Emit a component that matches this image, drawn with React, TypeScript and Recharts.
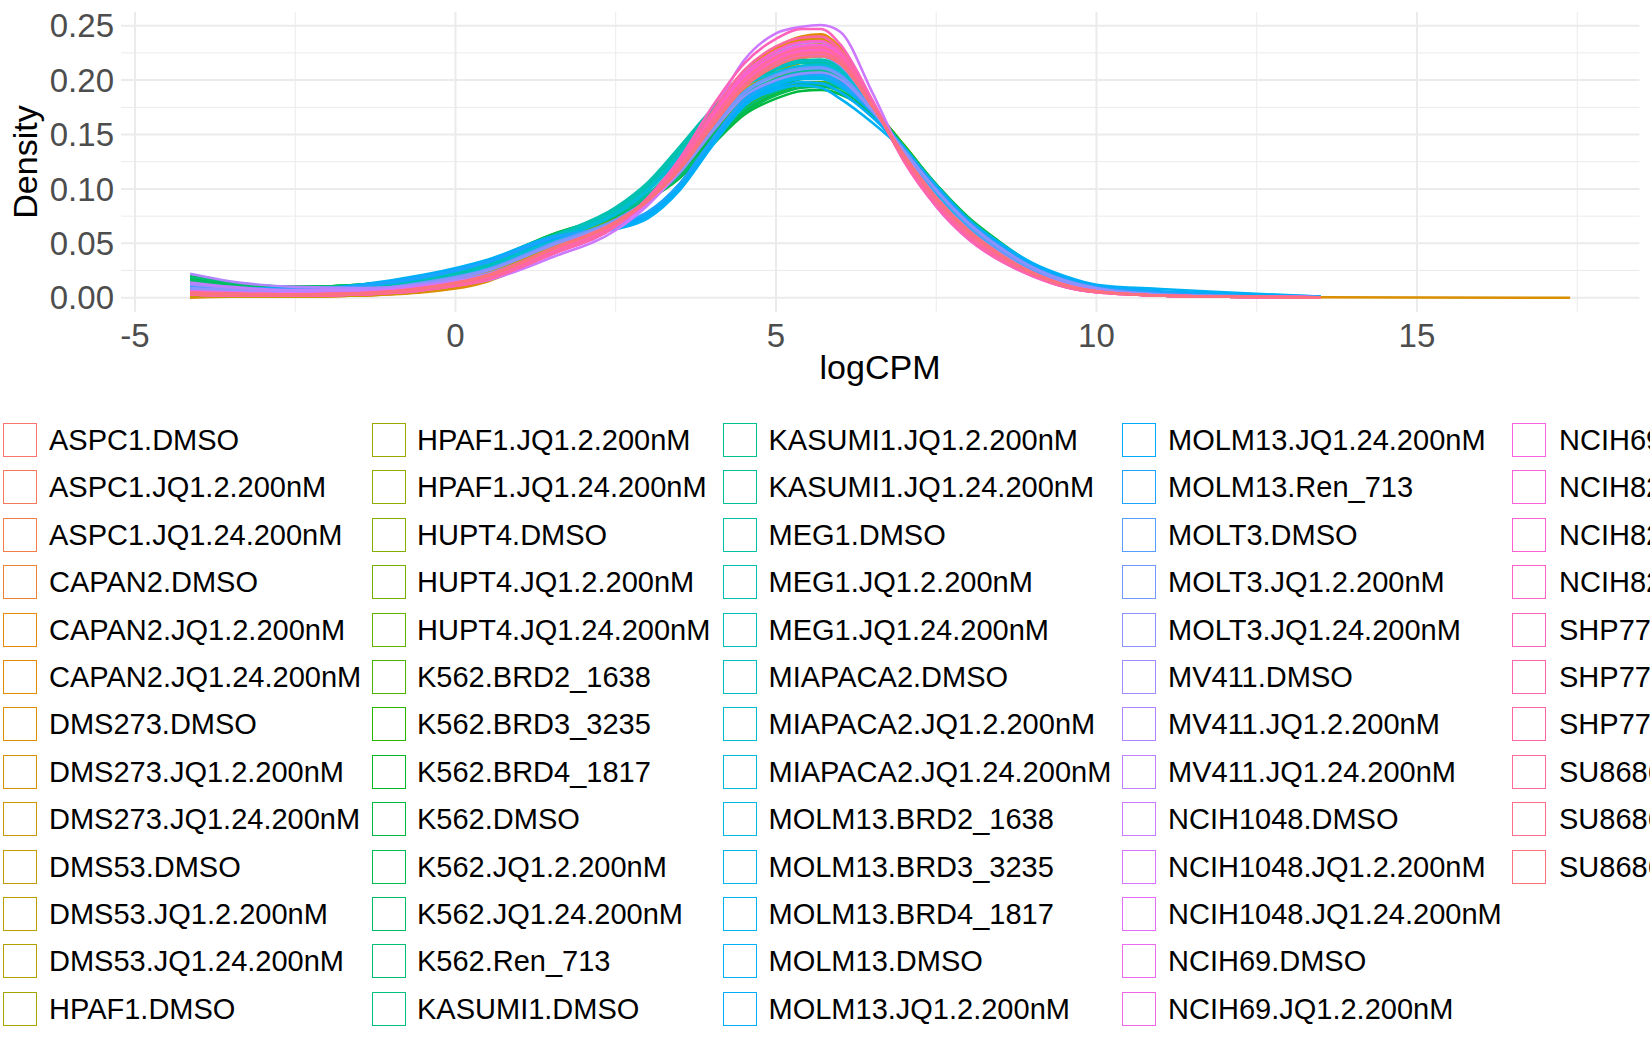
import React from 'react';
import { LineChart, Line, XAxis, YAxis, ReferenceLine } from 'recharts';

const FONT = '"Liberation Sans", Arial, Helvetica, sans-serif';

const logCPM = [
  -4.14, -3.5, -2.5, -1.5, -0.5, 0.5, 1.5, 2.5, 3.0, 3.5, 4.0, 4.5, 5.0, 5.4,
  5.7, 6.0, 6.5, 7.0, 7.5, 8.0, 8.5, 9.0, 9.5, 10.0, 11.0, 12.0, 13.5, 17.39,
];

const sampleNames = [
  'ASPC1.DMSO', 'ASPC1.JQ1.2.200nM', 'ASPC1.JQ1.24.200nM',
  'CAPAN2.DMSO', 'CAPAN2.JQ1.2.200nM', 'CAPAN2.JQ1.24.200nM',
  'DMS273.DMSO', 'DMS273.JQ1.2.200nM', 'DMS273.JQ1.24.200nM',
  'DMS53.DMSO', 'DMS53.JQ1.2.200nM', 'DMS53.JQ1.24.200nM',
  'HPAF1.DMSO', 'HPAF1.JQ1.2.200nM', 'HPAF1.JQ1.24.200nM',
  'HUPT4.DMSO', 'HUPT4.JQ1.2.200nM', 'HUPT4.JQ1.24.200nM',
  'K562.BRD2_1638', 'K562.BRD3_3235', 'K562.BRD4_1817', 'K562.DMSO',
  'K562.JQ1.2.200nM', 'K562.JQ1.24.200nM', 'K562.Ren_713',
  'KASUMI1.DMSO', 'KASUMI1.JQ1.2.200nM', 'KASUMI1.JQ1.24.200nM',
  'MEG1.DMSO', 'MEG1.JQ1.2.200nM', 'MEG1.JQ1.24.200nM',
  'MIAPACA2.DMSO', 'MIAPACA2.JQ1.2.200nM', 'MIAPACA2.JQ1.24.200nM',
  'MOLM13.BRD2_1638', 'MOLM13.BRD3_3235', 'MOLM13.BRD4_1817', 'MOLM13.DMSO',
  'MOLM13.JQ1.2.200nM', 'MOLM13.JQ1.24.200nM', 'MOLM13.Ren_713',
  'MOLT3.DMSO', 'MOLT3.JQ1.2.200nM', 'MOLT3.JQ1.24.200nM',
  'MV411.DMSO', 'MV411.JQ1.2.200nM', 'MV411.JQ1.24.200nM',
  'NCIH1048.DMSO', 'NCIH1048.JQ1.2.200nM', 'NCIH1048.JQ1.24.200nM',
  'NCIH69.DMSO', 'NCIH69.JQ1.2.200nM', 'NCIH69.JQ1.24.200nM',
  'NCIH82.DMSO', 'NCIH82.JQ1.2.200nM', 'NCIH82.JQ1.24.200nM',
  'SHP77.DMSO', 'SHP77.JQ1.2.200nM', 'SHP77.JQ1.24.200nM',
  'SU8686.DMSO', 'SU8686.JQ1.2.200nM', 'SU8686.JQ1.24.200nM',
];

// one row per sample, aligned with logCPM (null = curve already ended)
const densityBySample: (number | null)[][] = [
  [0.004, 0.003, 0.002, 0.004, 0.009, 0.021, 0.046, 0.069, 0.091, 0.121, 0.161, 0.197, 0.220, 0.230, 0.231, 0.221, 0.176, 0.129, 0.091, 0.062, 0.040, 0.025, 0.013, 0.007, 0.003, 0.001, 0.0005, null],
  [0.003, 0.002, 0.002, 0.003, 0.008, 0.019, 0.045, 0.070, 0.093, 0.124, 0.165, 0.201, 0.225, 0.234, 0.235, 0.224, 0.178, 0.128, 0.090, 0.061, 0.040, 0.024, 0.012, 0.006, 0.002, 0.001, 0.0005, null],
  [0.005, 0.004, 0.003, 0.004, 0.010, 0.022, 0.047, 0.071, 0.092, 0.120, 0.159, 0.194, 0.216, 0.226, 0.228, 0.218, 0.176, 0.131, 0.093, 0.063, 0.041, 0.026, 0.014, 0.007, 0.003, 0.001, 0.0005, null],
  [0.001, 0.001, 0.001, 0.002, 0.006, 0.017, 0.043, 0.069, 0.093, 0.126, 0.170, 0.206, 0.228, 0.238, 0.240, 0.229, 0.180, 0.127, 0.088, 0.059, 0.038, 0.023, 0.011, 0.006, 0.002, 0.001, 0.0003, null],
  [0.000, 0.001, 0.001, 0.002, 0.006, 0.016, 0.042, 0.068, 0.092, 0.125, 0.169, 0.205, 0.227, 0.237, 0.238, 0.227, 0.179, 0.127, 0.089, 0.060, 0.039, 0.023, 0.011, 0.006, 0.002, 0.001, 0.0003, null],
  [0.001, 0.001, 0.001, 0.002, 0.005, 0.015, 0.041, 0.067, 0.093, 0.127, 0.172, 0.208, 0.230, 0.240, 0.242, 0.230, 0.181, 0.127, 0.087, 0.058, 0.037, 0.022, 0.011, 0.006, 0.002, 0.001, 0.0003, null],
  [0.002, 0.002, 0.002, 0.003, 0.007, 0.018, 0.044, 0.069, 0.092, 0.124, 0.166, 0.202, 0.224, 0.234, 0.236, 0.226, 0.180, 0.129, 0.090, 0.060, 0.039, 0.024, 0.012, 0.006, 0.002, 0.001, 0.0004, 0],
  [0.003, 0.002, 0.002, 0.003, 0.007, 0.019, 0.045, 0.070, 0.092, 0.122, 0.163, 0.199, 0.222, 0.231, 0.233, 0.223, 0.179, 0.130, 0.091, 0.061, 0.040, 0.024, 0.012, 0.007, 0.002, 0.001, 0.0004, null],
  [0.001, 0.001, 0.001, 0.002, 0.006, 0.017, 0.043, 0.068, 0.093, 0.126, 0.169, 0.205, 0.227, 0.236, 0.239, 0.228, 0.181, 0.128, 0.088, 0.059, 0.038, 0.023, 0.011, 0.006, 0.002, 0.001, 0.0003, null],
  [0.006, 0.004, 0.003, 0.005, 0.011, 0.023, 0.048, 0.071, 0.092, 0.120, 0.157, 0.192, 0.213, 0.223, 0.225, 0.216, 0.176, 0.131, 0.094, 0.064, 0.042, 0.026, 0.014, 0.008, 0.003, 0.0015, 0.0005, null],
  [0.005, 0.004, 0.003, 0.005, 0.011, 0.024, 0.049, 0.071, 0.091, 0.118, 0.155, 0.189, 0.210, 0.220, 0.222, 0.214, 0.175, 0.132, 0.095, 0.065, 0.043, 0.027, 0.015, 0.008, 0.003, 0.0015, 0.0005, null],
  [0.004, 0.003, 0.003, 0.004, 0.010, 0.022, 0.047, 0.070, 0.092, 0.121, 0.159, 0.195, 0.217, 0.227, 0.229, 0.219, 0.177, 0.130, 0.093, 0.063, 0.041, 0.025, 0.014, 0.007, 0.003, 0.001, 0.0005, null],
  [0.008, 0.006, 0.004, 0.006, 0.012, 0.025, 0.050, 0.072, 0.092, 0.119, 0.154, 0.187, 0.207, 0.216, 0.218, 0.211, 0.176, 0.134, 0.097, 0.067, 0.044, 0.027, 0.015, 0.008, 0.003, 0.0015, 0.0005, null],
  [0.009, 0.007, 0.005, 0.007, 0.013, 0.026, 0.051, 0.073, 0.091, 0.117, 0.151, 0.183, 0.202, 0.211, 0.212, 0.206, 0.175, 0.136, 0.099, 0.069, 0.046, 0.028, 0.016, 0.008, 0.003, 0.0015, 0.0005, null],
  [0.007, 0.006, 0.004, 0.006, 0.013, 0.026, 0.052, 0.074, 0.092, 0.117, 0.150, 0.181, 0.199, 0.207, 0.208, 0.203, 0.175, 0.137, 0.100, 0.070, 0.047, 0.029, 0.016, 0.009, 0.003, 0.0015, 0.0005, null],
  [0.010, 0.008, 0.006, 0.008, 0.015, 0.028, 0.053, 0.074, 0.091, 0.115, 0.147, 0.177, 0.195, 0.202, 0.203, 0.199, 0.175, 0.139, 0.102, 0.071, 0.048, 0.029, 0.017, 0.009, 0.004, 0.002, 0.0005, null],
  [0.008, 0.006, 0.005, 0.007, 0.014, 0.027, 0.052, 0.073, 0.091, 0.117, 0.150, 0.182, 0.200, 0.209, 0.210, 0.204, 0.175, 0.137, 0.100, 0.069, 0.046, 0.028, 0.016, 0.009, 0.003, 0.0015, 0.0005, null],
  [0.012, 0.009, 0.007, 0.009, 0.016, 0.029, 0.054, 0.075, 0.091, 0.114, 0.145, 0.174, 0.191, 0.197, 0.198, 0.195, 0.174, 0.140, 0.103, 0.072, 0.049, 0.030, 0.017, 0.010, 0.004, 0.002, 0.0005, null],
  [0.017, 0.012, 0.009, 0.011, 0.018, 0.031, 0.056, 0.076, 0.091, 0.114, 0.146, 0.175, 0.190, 0.197, 0.198, 0.194, 0.173, 0.139, 0.103, 0.072, 0.049, 0.030, 0.017, 0.010, 0.004, 0.002, 0.0005, null],
  [0.019, 0.013, 0.010, 0.012, 0.019, 0.032, 0.057, 0.076, 0.090, 0.112, 0.144, 0.172, 0.188, 0.195, 0.196, 0.193, 0.173, 0.140, 0.104, 0.073, 0.050, 0.030, 0.017, 0.010, 0.004, 0.002, 0.0005, null],
  [0.015, 0.011, 0.008, 0.010, 0.017, 0.030, 0.055, 0.075, 0.091, 0.115, 0.148, 0.178, 0.193, 0.201, 0.202, 0.197, 0.174, 0.139, 0.102, 0.071, 0.048, 0.029, 0.017, 0.010, 0.004, 0.002, 0.0005, null],
  [0.020, 0.014, 0.010, 0.012, 0.020, 0.034, 0.058, 0.077, 0.090, 0.110, 0.140, 0.168, 0.183, 0.190, 0.191, 0.187, 0.168, 0.137, 0.104, 0.074, 0.051, 0.031, 0.018, 0.010, 0.004, 0.002, 0.0005, null],
  [0.018, 0.013, 0.010, 0.012, 0.019, 0.033, 0.058, 0.077, 0.091, 0.111, 0.142, 0.170, 0.186, 0.193, 0.194, 0.190, 0.170, 0.138, 0.104, 0.073, 0.050, 0.031, 0.018, 0.010, 0.004, 0.002, 0.0005, null],
  [0.016, 0.012, 0.009, 0.011, 0.018, 0.032, 0.057, 0.077, 0.092, 0.116, 0.149, 0.179, 0.194, 0.202, 0.203, 0.198, 0.174, 0.138, 0.102, 0.071, 0.048, 0.029, 0.017, 0.010, 0.004, 0.002, 0.0005, null],
  [0.019, 0.014, 0.010, 0.012, 0.019, 0.033, 0.057, 0.076, 0.090, 0.112, 0.144, 0.173, 0.189, 0.196, 0.197, 0.193, 0.172, 0.139, 0.104, 0.073, 0.050, 0.030, 0.017, 0.010, 0.004, 0.002, 0.0005, null],
  [0.012, 0.009, 0.007, 0.009, 0.016, 0.029, 0.054, 0.076, 0.094, 0.121, 0.156, 0.189, 0.205, 0.213, 0.214, 0.207, 0.174, 0.134, 0.098, 0.068, 0.045, 0.027, 0.015, 0.008, 0.003, 0.0015, 0.0005, null],
  [0.010, 0.008, 0.006, 0.008, 0.015, 0.028, 0.053, 0.076, 0.095, 0.123, 0.160, 0.194, 0.210, 0.218, 0.219, 0.211, 0.174, 0.132, 0.096, 0.066, 0.044, 0.026, 0.014, 0.008, 0.003, 0.0015, 0.0005, null],
  [0.013, 0.010, 0.007, 0.009, 0.017, 0.030, 0.055, 0.077, 0.095, 0.122, 0.156, 0.187, 0.201, 0.208, 0.209, 0.203, 0.173, 0.135, 0.099, 0.069, 0.046, 0.028, 0.016, 0.009, 0.003, 0.0015, 0.0005, null],
  [0.008, 0.006, 0.005, 0.007, 0.014, 0.028, 0.055, 0.081, 0.104, 0.136, 0.170, 0.198, 0.210, 0.216, 0.216, 0.208, 0.172, 0.131, 0.095, 0.065, 0.043, 0.026, 0.014, 0.008, 0.003, 0.0015, 0.0005, null],
  [0.007, 0.006, 0.005, 0.007, 0.014, 0.028, 0.056, 0.083, 0.106, 0.139, 0.173, 0.200, 0.212, 0.218, 0.218, 0.209, 0.171, 0.130, 0.094, 0.065, 0.043, 0.026, 0.014, 0.008, 0.003, 0.0015, 0.0005, null],
  [0.009, 0.007, 0.005, 0.007, 0.015, 0.029, 0.056, 0.080, 0.102, 0.133, 0.167, 0.195, 0.207, 0.213, 0.214, 0.207, 0.172, 0.132, 0.096, 0.066, 0.044, 0.027, 0.015, 0.008, 0.003, 0.0015, 0.0005, null],
  [0.006, 0.005, 0.004, 0.006, 0.013, 0.027, 0.054, 0.078, 0.099, 0.130, 0.165, 0.197, 0.211, 0.217, 0.218, 0.210, 0.173, 0.131, 0.095, 0.065, 0.043, 0.026, 0.014, 0.008, 0.003, 0.0015, 0.0005, null],
  [0.005, 0.004, 0.004, 0.006, 0.012, 0.026, 0.052, 0.077, 0.099, 0.131, 0.167, 0.200, 0.215, 0.221, 0.222, 0.213, 0.174, 0.130, 0.094, 0.064, 0.042, 0.025, 0.014, 0.007, 0.003, 0.0015, 0.0005, null],
  [0.007, 0.005, 0.004, 0.006, 0.013, 0.027, 0.053, 0.077, 0.098, 0.128, 0.163, 0.194, 0.207, 0.213, 0.214, 0.207, 0.172, 0.132, 0.096, 0.066, 0.044, 0.026, 0.015, 0.008, 0.003, 0.0015, 0.0005, null],
  [0.010, 0.009, 0.008, 0.011, 0.019, 0.033, 0.055, 0.066, 0.078, 0.104, 0.144, 0.180, 0.198, 0.204, 0.204, 0.197, 0.171, 0.137, 0.101, 0.070, 0.047, 0.029, 0.017, 0.010, 0.005, 0.002, 0.0005, null],
  [0.009, 0.008, 0.007, 0.010, 0.018, 0.032, 0.054, 0.065, 0.077, 0.103, 0.143, 0.179, 0.197, 0.203, 0.203, 0.196, 0.171, 0.137, 0.101, 0.070, 0.047, 0.029, 0.017, 0.010, 0.005, 0.002, 0.0005, null],
  [0.011, 0.009, 0.008, 0.011, 0.019, 0.033, 0.055, 0.064, 0.075, 0.100, 0.140, 0.177, 0.195, 0.201, 0.201, 0.194, 0.170, 0.138, 0.102, 0.071, 0.048, 0.030, 0.018, 0.010, 0.005, 0.002, 0.0005, null],
  [0.008, 0.008, 0.008, 0.012, 0.021, 0.035, 0.056, 0.063, 0.073, 0.099, 0.139, 0.176, 0.191, 0.195, 0.193, 0.183, 0.161, 0.135, 0.103, 0.072, 0.050, 0.032, 0.020, 0.012, 0.008, 0.005, 0.001, null],
  [0.009, 0.008, 0.008, 0.011, 0.020, 0.034, 0.055, 0.064, 0.075, 0.101, 0.141, 0.178, 0.193, 0.198, 0.197, 0.189, 0.166, 0.136, 0.102, 0.071, 0.049, 0.031, 0.019, 0.011, 0.006, 0.004, 0.001, null],
  [0.010, 0.009, 0.008, 0.011, 0.019, 0.033, 0.054, 0.066, 0.078, 0.105, 0.145, 0.182, 0.200, 0.206, 0.206, 0.198, 0.171, 0.136, 0.100, 0.069, 0.046, 0.029, 0.017, 0.010, 0.005, 0.002, 0.0005, null],
  [0.010, 0.009, 0.008, 0.011, 0.019, 0.033, 0.055, 0.067, 0.079, 0.105, 0.145, 0.181, 0.199, 0.205, 0.205, 0.197, 0.171, 0.137, 0.101, 0.070, 0.047, 0.029, 0.017, 0.010, 0.005, 0.002, 0.0005, null],
  [0.007, 0.006, 0.005, 0.007, 0.014, 0.026, 0.050, 0.072, 0.090, 0.118, 0.155, 0.189, 0.205, 0.211, 0.212, 0.205, 0.173, 0.134, 0.098, 0.067, 0.044, 0.027, 0.015, 0.008, 0.003, 0.0015, 0.0005, null],
  [0.008, 0.007, 0.005, 0.007, 0.014, 0.026, 0.049, 0.071, 0.089, 0.117, 0.154, 0.188, 0.204, 0.210, 0.211, 0.204, 0.173, 0.135, 0.099, 0.068, 0.045, 0.027, 0.015, 0.008, 0.003, 0.0015, 0.0005, null],
  [0.009, 0.007, 0.005, 0.007, 0.013, 0.025, 0.048, 0.070, 0.088, 0.115, 0.152, 0.185, 0.200, 0.206, 0.207, 0.201, 0.172, 0.135, 0.099, 0.069, 0.046, 0.028, 0.016, 0.009, 0.003, 0.0015, 0.0005, null],
  [0.012, 0.009, 0.006, 0.007, 0.012, 0.022, 0.044, 0.067, 0.088, 0.120, 0.162, 0.198, 0.215, 0.221, 0.222, 0.214, 0.176, 0.132, 0.093, 0.063, 0.041, 0.024, 0.013, 0.007, 0.002, 0.001, 0.0005, null],
  [0.022, 0.015, 0.010, 0.009, 0.012, 0.021, 0.042, 0.066, 0.088, 0.121, 0.165, 0.203, 0.221, 0.229, 0.230, 0.220, 0.177, 0.130, 0.091, 0.061, 0.039, 0.023, 0.012, 0.006, 0.002, 0.001, 0.0005, null],
  [0.014, 0.010, 0.007, 0.007, 0.011, 0.020, 0.042, 0.066, 0.088, 0.122, 0.167, 0.206, 0.226, 0.234, 0.235, 0.225, 0.179, 0.129, 0.089, 0.059, 0.038, 0.022, 0.011, 0.006, 0.002, 0.001, 0.0005, null],
  [0.006, 0.004, 0.003, 0.004, 0.008, 0.016, 0.037, 0.062, 0.085, 0.118, 0.168, 0.218, 0.243, 0.249, 0.2506, 0.2445, 0.189, 0.128, 0.084, 0.054, 0.034, 0.020, 0.010, 0.005, 0.002, 0.001, 0.0003, null],
  [0.005, 0.004, 0.003, 0.004, 0.009, 0.018, 0.040, 0.065, 0.088, 0.121, 0.164, 0.202, 0.222, 0.231, 0.232, 0.223, 0.178, 0.129, 0.089, 0.059, 0.038, 0.022, 0.011, 0.006, 0.002, 0.001, 0.0003, null],
  [0.006, 0.005, 0.004, 0.005, 0.010, 0.020, 0.042, 0.067, 0.088, 0.119, 0.160, 0.197, 0.217, 0.225, 0.226, 0.218, 0.177, 0.131, 0.091, 0.061, 0.039, 0.023, 0.012, 0.006, 0.002, 0.001, 0.0004, null],
  [0.004, 0.003, 0.003, 0.004, 0.009, 0.019, 0.042, 0.067, 0.089, 0.120, 0.162, 0.199, 0.219, 0.227, 0.228, 0.219, 0.177, 0.129, 0.090, 0.060, 0.038, 0.022, 0.011, 0.006, 0.002, 0.001, 0.0003, null],
  [0.005, 0.004, 0.003, 0.004, 0.009, 0.019, 0.041, 0.066, 0.089, 0.121, 0.164, 0.202, 0.223, 0.231, 0.232, 0.222, 0.178, 0.128, 0.089, 0.059, 0.037, 0.022, 0.011, 0.006, 0.002, 0.001, 0.0003, null],
  [0.006, 0.004, 0.003, 0.004, 0.009, 0.020, 0.043, 0.068, 0.089, 0.119, 0.160, 0.196, 0.216, 0.223, 0.224, 0.216, 0.176, 0.130, 0.091, 0.061, 0.039, 0.023, 0.012, 0.006, 0.002, 0.001, 0.0003, null],
  [0.003, 0.002, 0.002, 0.003, 0.008, 0.018, 0.041, 0.067, 0.090, 0.122, 0.164, 0.202, 0.223, 0.231, 0.232, 0.222, 0.177, 0.128, 0.088, 0.058, 0.037, 0.022, 0.011, 0.006, 0.002, 0.001, 0.0003, null],
  [0.004, 0.003, 0.002, 0.003, 0.008, 0.018, 0.041, 0.067, 0.089, 0.120, 0.161, 0.198, 0.219, 0.227, 0.228, 0.219, 0.177, 0.129, 0.089, 0.059, 0.038, 0.022, 0.011, 0.006, 0.002, 0.001, 0.0003, null],
  [0.003, 0.002, 0.002, 0.003, 0.007, 0.017, 0.040, 0.066, 0.090, 0.123, 0.167, 0.205, 0.227, 0.235, 0.236, 0.225, 0.178, 0.127, 0.087, 0.057, 0.036, 0.021, 0.010, 0.005, 0.002, 0.001, 0.0003, null],
  [0.003, 0.002, 0.002, 0.003, 0.007, 0.017, 0.040, 0.066, 0.092, 0.128, 0.175, 0.215, 0.238, 0.247, 0.247, 0.233, 0.182, 0.125, 0.084, 0.054, 0.034, 0.020, 0.010, 0.005, 0.002, 0.001, 0.0003, null],
  [0.004, 0.003, 0.002, 0.003, 0.008, 0.018, 0.041, 0.067, 0.089, 0.119, 0.160, 0.196, 0.217, 0.225, 0.226, 0.218, 0.177, 0.130, 0.090, 0.060, 0.038, 0.022, 0.011, 0.006, 0.002, 0.001, 0.0003, null],
  [0.003, 0.002, 0.002, 0.003, 0.007, 0.017, 0.040, 0.066, 0.091, 0.125, 0.170, 0.209, 0.231, 0.239, 0.240, 0.228, 0.179, 0.126, 0.086, 0.056, 0.035, 0.021, 0.010, 0.005, 0.002, 0.001, 0.0003, null],
  [0.004, 0.003, 0.003, 0.004, 0.009, 0.020, 0.044, 0.069, 0.090, 0.121, 0.163, 0.200, 0.221, 0.229, 0.230, 0.221, 0.177, 0.129, 0.089, 0.059, 0.038, 0.022, 0.011, 0.006, 0.002, 0.001, 0.0003, null],
  [0.005, 0.004, 0.003, 0.004, 0.009, 0.021, 0.045, 0.070, 0.090, 0.119, 0.159, 0.195, 0.216, 0.224, 0.225, 0.217, 0.177, 0.130, 0.091, 0.061, 0.039, 0.023, 0.012, 0.006, 0.002, 0.001, 0.0004, null],
  [0.004, 0.003, 0.003, 0.004, 0.009, 0.020, 0.044, 0.069, 0.089, 0.118, 0.157, 0.193, 0.213, 0.221, 0.222, 0.215, 0.176, 0.131, 0.092, 0.062, 0.040, 0.023, 0.012, 0.006, 0.002, 0.001, 0.0004, null],
];

const xMajorTicks = [-5, 0, 5, 10, 15];
const xMinorBreaks = [-2.5, 2.5, 7.5, 12.5, 17.5];
const yMajorTicks = [0, 0.05, 0.1, 0.15, 0.2, 0.25];
const yMinorBreaks = [0.025, 0.075, 0.125, 0.175, 0.225];

// ggplot2 default hue palette: hcl(h, c = 100, l = 65)
function hueColor(h: number): string {
  const L = 65;
  const C = 100;
  const hr = (h * Math.PI) / 180;
  const U = C * Math.cos(hr);
  const V = C * Math.sin(hr);
  const Y = 100 * Math.pow((L + 16) / 116, 3);
  const u = U / (13 * L) + 0.1978398;
  const v = V / (13 * L) + 0.4683363;
  const X = (9 * Y * u) / (4 * v);
  const Z = -X / 3 - 5 * Y + (3 * Y) / v;
  const x = X / 100, y = Y / 100, z = Z / 100;
  const lin = [
    3.240479 * x - 1.53715 * y - 0.498535 * z,
    -0.969256 * x + 1.875992 * y + 0.041556 * z,
    0.055648 * x - 0.204043 * y + 1.057311 * z,
  ];
  const hex = lin.map((c) => {
    const g = c <= 0.0031308 ? 12.92 * c : 1.055 * Math.pow(c, 1 / 2.4) - 0.055;
    const n = Math.round(Math.min(1, Math.max(0, g)) * 255);
    return n.toString(16).padStart(2, '0');
  });
  return '#' + hex.join('');
}

const ROWS = 13;
const keyLeft = [3, 371.7, 723.3, 1121.5, 1512];
const textLeft = [49, 417, 768.5, 1168, 1559];

export default function App() {
  const series = sampleNames.map((name, i) => ({
    name,
    color: hueColor(15 + (360 / sampleNames.length) * i),
    points: logCPM.map((x, j) => ({ x, d: densityBySample[i][j] })),
  }));

  const tickStyle = { fill: '#4D4D4D', fontSize: 33, fontFamily: FONT };

  return (
    <div
      style={{
        position: 'absolute',
        left: 0,
        top: 0,
        width: 1650,
        height: 1050,
        overflow: 'hidden',
        background: '#ffffff',
        fontFamily: FONT,
      }}
    >
      <LineChart width={1650} height={400} margin={{ top: 12, right: 10.6, bottom: 0, left: 0 }}>
        {xMinorBreaks.map((v) => (
          <ReferenceLine key={'xm' + v} x={v} stroke="#EBEBEB" strokeWidth={1} ifOverflow="visible" zIndex={-100} />
        ))}
        {yMinorBreaks.map((v) => (
          <ReferenceLine key={'ym' + v} y={v} stroke="#EBEBEB" strokeWidth={1} ifOverflow="visible" zIndex={-100} />
        ))}
        {xMajorTicks.map((v) => (
          <ReferenceLine key={'xM' + v} x={v} stroke="#EBEBEB" strokeWidth={2} ifOverflow="visible" zIndex={-100} />
        ))}
        {yMajorTicks.map((v) => (
          <ReferenceLine key={'yM' + v} y={v} stroke="#EBEBEB" strokeWidth={2} ifOverflow="visible" zIndex={-100} />
        ))}
        <XAxis
          type="number"
          dataKey="x"
          domain={[-5.218, 18.47]}
          ticks={xMajorTicks}
          allowDataOverflow
          axisLine={false}
          tickLine={false}
          tickSize={0}
          tickMargin={12}
          height={88}
          tick={tickStyle}
        />
        <YAxis
          type="number"
          domain={[-0.0131, 0.2626]}
          ticks={yMajorTicks}
          allowDataOverflow
          width={121}
          axisLine={false}
          tickLine={false}
          tickSize={0}
          tickMargin={7}
          tickFormatter={(v: number) => v.toFixed(2)}
          tick={tickStyle}
        />
        {series.map((s) => (
          <Line
            key={s.name}
            data={s.points}
            dataKey="d"
            type="monotone"
            stroke={s.color}
            strokeWidth={2.6}
            dot={false}
            activeDot={false}
            connectNulls={false}
            isAnimationActive={false}
          />
        ))}
      </LineChart>

      <svg
        width={1650}
        height={400}
        style={{ position: 'absolute', left: 0, top: 0, pointerEvents: 'none' }}
      >
        <text x={880} y={379} textAnchor="middle" fontSize={34} fill="#000000" fontFamily={FONT}>
          logCPM
        </text>
        <text
          transform="translate(37,162) rotate(-90)"
          textAnchor="middle"
          fontSize={34}
          fill="#000000"
          fontFamily={FONT}
        >
          Density
        </text>
      </svg>

      {series.map((s, i) => {
        const col = Math.floor(i / ROWS);
        const row = i % ROWS;
        const cy = 440 + row * 47.4;
        return (
          <React.Fragment key={'lg' + s.name}>
            <div
              style={{
                position: 'absolute',
                left: keyLeft[col],
                top: cy - 17,
                width: 34,
                height: 34,
                boxSizing: 'border-box',
                border: `1.6px solid ${s.color}`,
                background: '#ffffff',
              }}
            />
            <div
              style={{
                position: 'absolute',
                left: textLeft[col],
                top: cy - 20,
                height: 40,
                lineHeight: '40px',
                fontSize: 29,
                color: '#000000',
                whiteSpace: 'nowrap',
              }}
            >
              {s.name}
            </div>
          </React.Fragment>
        );
      })}
    </div>
  );
}
